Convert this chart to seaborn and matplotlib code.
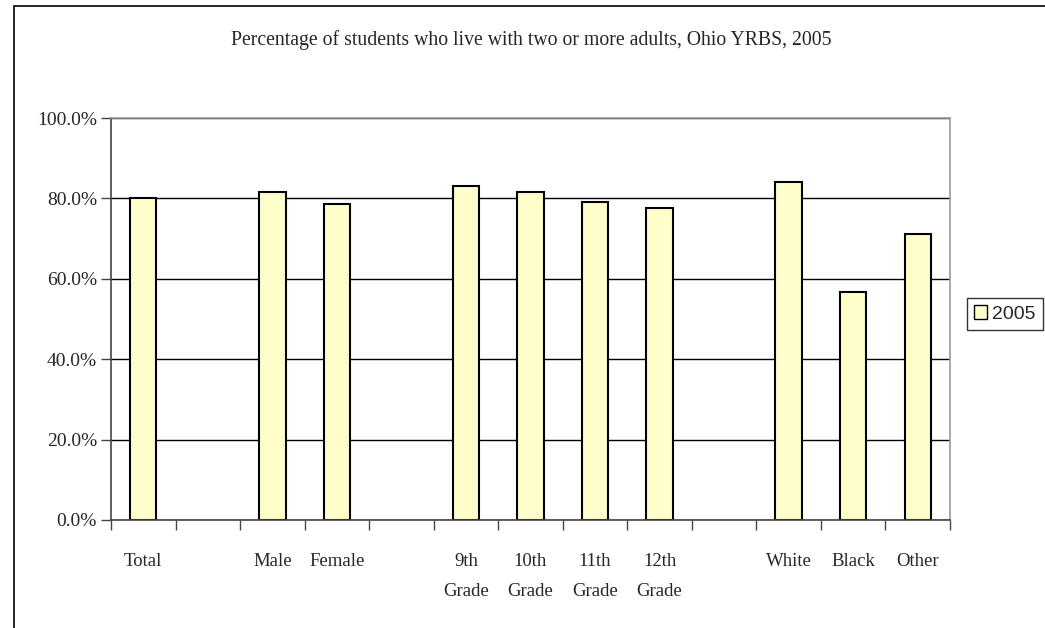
#!/usr/bin/env python3
# two_adults.py -- Ohio YRBS 2005, students living with two or more adults

import matplotlib
matplotlib.use('Agg')
import matplotlib.pyplot as plt
from matplotlib.patches import Rectangle
from matplotlib.ticker import FuncFormatter, FixedLocator
import pandas as pd
import seaborn as sns

# Data =========================================================================

groups = ['Total', 'Male', 'Female', '9th\nGrade', '10th\nGrade',
          '11th\nGrade', '12th\nGrade', 'White', 'Black', 'Other']
percent_2005 = [80.0, 81.5, 78.7, 83.2, 81.5, 79.0, 77.6, 84.0, 56.7, 71.1]
# empty slots between the groups, as in the original sheet
slot_order = ['Total', ' ', 'Male', 'Female', '  ', '9th\nGrade', '10th\nGrade',
              '11th\nGrade', '12th\nGrade', '   ', 'White', 'Black', 'Other']
series_name = '2005'


def main():
    sns.set_theme(style='white')
    plt.rcParams['font.family'] = ['Liberation Serif', 'DejaVu Serif']

    df = pd.DataFrame({'Group': groups, 'Percent': percent_2005,
                       'Year': series_name})

    fig = plt.figure(figsize=(10.45, 6.28), dpi=100)
    ax = fig.add_axes([111 / 1045, 108 / 628, 839 / 1045, 402 / 628])

    sns.barplot(data=df, x='Group', y='Percent', hue='Year', order=slot_order,
                palette=['#FFFFCC'], saturation=1, edgecolor='black',
                linewidth=1.5, width=0.41, ax=ax)

    ax.set_ylim(0, 100)
    ax.set_xlim(-0.5, len(slot_order) - 0.5)
    ax.set_yticks([0, 20, 40, 60, 80, 100])
    ax.yaxis.set_major_formatter(FuncFormatter(lambda v, p: '{:.1f}%'.format(v)))
    ax.yaxis.grid(True, color='black', linewidth=1.0)
    ax.set_axisbelow(True)

    # category labels at centres, ticks at the slot boundaries
    ax.set_xticks(range(len(slot_order)))
    ax.set_xticklabels([s.strip() for s in slot_order], fontsize=13.5,
                       linespacing=2.0, va='top')
    ax.tick_params(axis='x', which='major', length=0, pad=24)
    ax.xaxis.set_minor_locator(FixedLocator(
        [i - 0.5 for i in range(len(slot_order) + 1)]))
    ax.tick_params(axis='x', which='minor', bottom=True, length=7,
                   width=1, color='#444444', direction='out')
    ax.tick_params(axis='y', left=True, length=7, width=1, color='#444444',
                   direction='out', labelsize=14, pad=3)
    ax.set_xlabel('')
    ax.set_ylabel('')

    for side in ('left', 'bottom'):
        ax.spines[side].set_color('#444444')
        ax.spines[side].set_linewidth(1.2)
    for side in ('top', 'right'):
        ax.spines[side].set_color('#999999')
        ax.spines[side].set_linewidth(1.2)

    fig.text(531 / 1045, 1 - 40 / 628,
             'Percentage of students who live with two or more adults, Ohio YRBS, 2005',
             ha='center', va='center', fontsize=14.2)

    leg = ax.legend(loc='center left', bbox_to_anchor=(967 / 1045, 1 - 314 / 628),
                    bbox_transform=fig.transFigure, frameon=True, fancybox=False,
                    edgecolor='black', handlelength=0.7, handleheight=0.7,
                    handletextpad=0.25, borderpad=0.35, borderaxespad=0,
                    prop={'family': 'Liberation Sans', 'size': 14})
    leg.get_frame().set_linewidth(1.0)
    for h in leg.legend_handles:
        h.set_edgecolor('black')
        h.set_linewidth(1.0)

    # outer chart border, running off the right and bottom of the picture
    fig.patches.append(Rectangle((14 / 1045, -0.05), 1.1, 1 - 6 / 628 + 0.05,
                                 transform=fig.transFigure, fill=False,
                                 edgecolor='black', linewidth=1.2))

    fig.savefig('out.png', dpi=100)


if __name__ == '__main__':
    main()
